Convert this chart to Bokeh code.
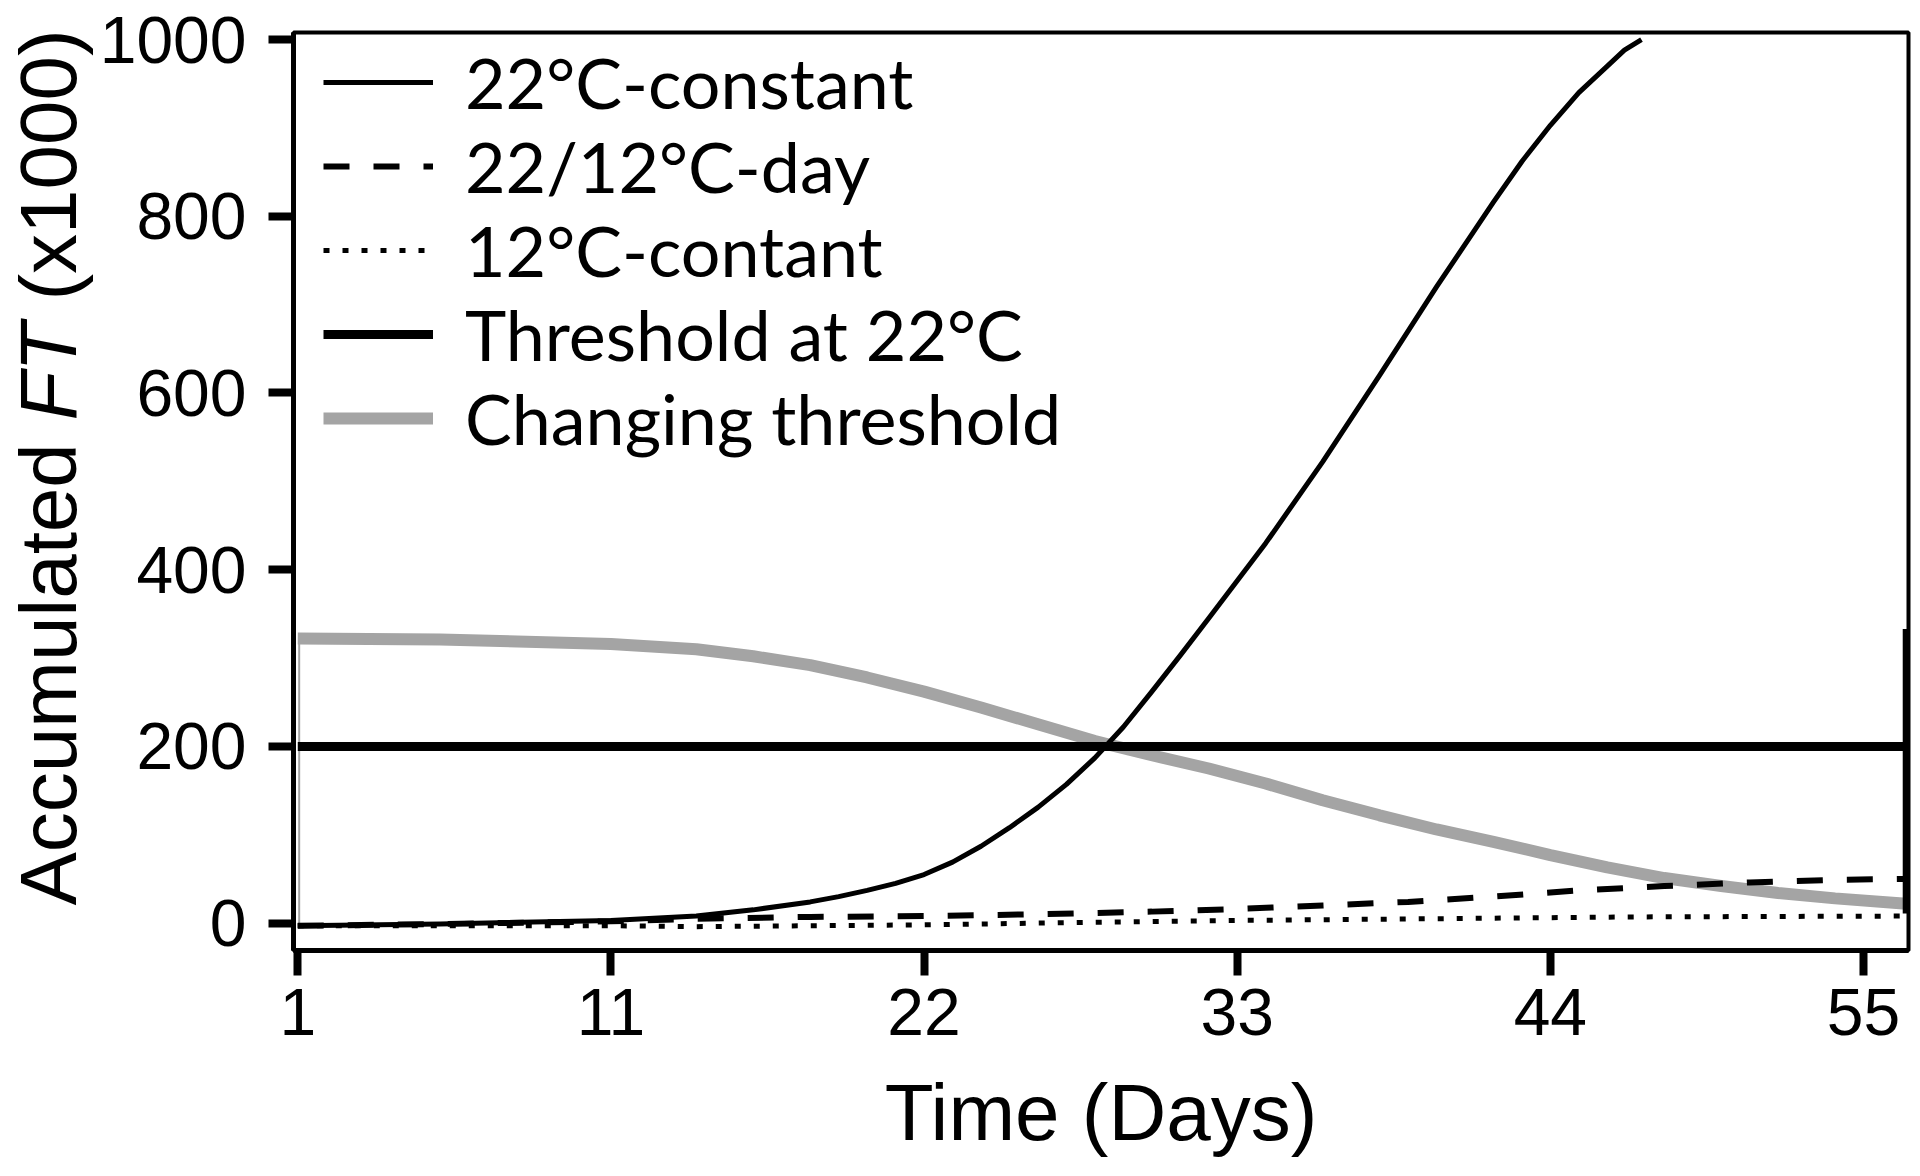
import math
from bokeh.plotting import figure
from bokeh.layouts import row
from bokeh.models import Range1d, Legend, LegendItem, FixedTicker
from bokeh.core.properties import value
from bokeh.embed import file_html
from bokeh.resources import INLINE

# ---- data ----
x_tick_values = [0, 11, 22, 33, 44, 55]
x_tick_labels = ["1", "11", "22", "33", "44", "55"]
y_tick_values = [0, 200, 400, 600, 800, 1000]

days_22c = [0, 5, 11, 14, 16, 18, 19, 20, 21, 22, 23, 24, 25, 26, 27, 28, 29, 30, 31, 32, 34, 36, 38, 40, 42, 43, 44, 45, 46, 46.6, 47.2]
ft_22c = [-3, -1, 3, 8, 15, 24, 30, 37, 45, 55, 69, 87, 108, 131, 157, 187, 222, 262, 303, 345, 430, 522, 620, 720, 816, 862, 903, 940, 970, 988, 1000]

days_day = [0, 5, 11, 14, 18, 22, 26, 30, 33, 36, 39, 42, 45, 48, 51, 54, 56.5]
ft_day = [-3, -1, 2, 5, 7, 8, 10, 13, 16, 20, 24, 30, 37, 42, 46, 49, 50]

days_12c = [0, 11, 14, 18, 22, 28, 33, 40, 47, 56.5]
ft_12c = [-3, -3, -4, -3, -2, 1, 3, 5, 7, 8]

days_thr = [0, 56.5]
ft_thr = [200, 200]

days_chg = [0, 5, 11, 14, 16, 18, 20, 22, 24, 26, 28, 30, 32, 34, 36, 38, 40, 42, 44, 46, 48, 50, 52, 54, 56.5]
ft_chg = [322, 321, 316, 310, 302, 292, 278, 262, 244, 225, 206, 190, 175, 158, 139, 122, 106, 92, 77, 63, 51, 42, 34, 28, 22]

right_mark_x = [56.5, 56.5]
right_mark_y = [333, 11]
left_mark_x = [0.05, 0.05]
left_mark_y = [0, 322]

legend_labels = ["22\u00b0C-constant", "22/12\u00b0C-day", "12\u00b0C-contant",
                 "Threshold at 22\u00b0C", "Changing threshold"]
ylabel_parts = ["Accumulated", "FT", "(x1000)"]
ylabel_pos = [19.8, 568.8, 704.6]
xlabel = "Time (Days)"

GRAY = "#a4a4a4"
SANS = "Liberation Sans"

y_range = Range1d(-31, 1008)

# ---- main figure ----
p = figure(width=1816, height=1168,
           x_range=Range1d(-0.15, 56.58), y_range=y_range,
           output_backend="svg", toolbar_location=None,
           min_border_left=193, min_border_right=4,
           min_border_top=32, min_border_bottom=218)

# ---- side figure carrying the y-axis title (mixed italic), same vertical frame ----
ylab = figure(width=96, height=1168, x_range=Range1d(0, 96), y_range=y_range,
              output_backend="svg", toolbar_location=None,
              x_axis_location=None, y_axis_location=None,
              min_border_left=0, min_border_right=0,
              min_border_top=32, min_border_bottom=218)
ylab.grid.visible = False
ylab.outline_line_color = None
ylab.text(x=[48, 48], y=[ylabel_pos[0], ylabel_pos[2]],
          text=[ylabel_parts[0], ylabel_parts[2]], angle=math.pi / 2,
          text_font=value(SANS), text_font_size="80px", text_align="left",
          text_baseline="middle", text_color="black")
ylab.text(x=[48], y=[ylabel_pos[1]], text=[ylabel_parts[1]], angle=math.pi / 2,
          text_font=value(SANS), text_font_size="80px", text_font_style="italic",
          text_align="left", text_baseline="middle", text_color="black")

p.grid.visible = False
p.background_fill_color = "white"
p.border_fill_color = "white"
p.outline_line_color = "black"
p.outline_line_width = 4

r_chg = p.line(days_chg, ft_chg, line_color=GRAY, line_width=12)
p.line(left_mark_x, left_mark_y, line_color=GRAY, line_width=2)
r_thr = p.line(days_thr, ft_thr, line_color="black", line_width=9)
p.line(right_mark_x, right_mark_y, line_color="black", line_width=7)
r_day = p.line(days_day, ft_day, line_color="black", line_width=6, line_dash="26 24")
r_12c = p.line(days_12c, ft_12c, line_color="black", line_width=5, line_dash="6 13")
r_22c = p.line(days_22c, ft_22c, line_color="black", line_width=5, line_join="round")

for ax in (p.xaxis[0], p.yaxis[0]):
    ax.axis_line_width = 5
    ax.axis_line_color = "black"
    ax.major_tick_line_width = 8
    ax.major_tick_line_color = "black"
    ax.major_tick_out = 25
    ax.major_tick_in = 0
    ax.minor_tick_line_color = None
    ax.major_label_text_font = SANS
    ax.major_label_text_font_size = "66px"
    ax.major_label_text_color = "black"

p.xaxis.ticker = FixedTicker(ticks=x_tick_values)
p.xaxis.major_label_overrides = {v: l for v, l in zip(x_tick_values, x_tick_labels)}
p.xaxis.major_label_standoff = 13
p.xaxis.axis_label = xlabel
p.xaxis.axis_label_text_font = SANS
p.xaxis.axis_label_text_font_size = "80px"
p.xaxis.axis_label_text_font_style = "normal"
p.xaxis.axis_label_text_color = "black"
p.xaxis.axis_label_standoff = 30
p.yaxis.ticker = FixedTicker(ticks=y_tick_values)
p.yaxis.major_label_standoff = 22

legend = Legend(items=[
    LegendItem(label=legend_labels[0], renderers=[r_22c]),
    LegendItem(label=legend_labels[1], renderers=[r_day]),
    LegendItem(label=legend_labels[2], renderers=[r_12c]),
    LegendItem(label=legend_labels[3], renderers=[r_thr]),
    LegendItem(label=legend_labels[4], renderers=[r_chg]),
], location=(30, 490))
legend.border_line_color = None
legend.background_fill_alpha = 0
legend.padding = 0
legend.margin = 0
legend.spacing = 0
legend.glyph_width = 110
legend.glyph_height = 20
legend.label_standoff = 32
legend.label_text_font = "Lato"
legend.label_text_font_size = "70px"
legend.label_text_color = "black"
p.add_layout(legend)

layout = row(ylab, p, spacing=0)
open("out.html", "w").write(file_html(layout, INLINE))
